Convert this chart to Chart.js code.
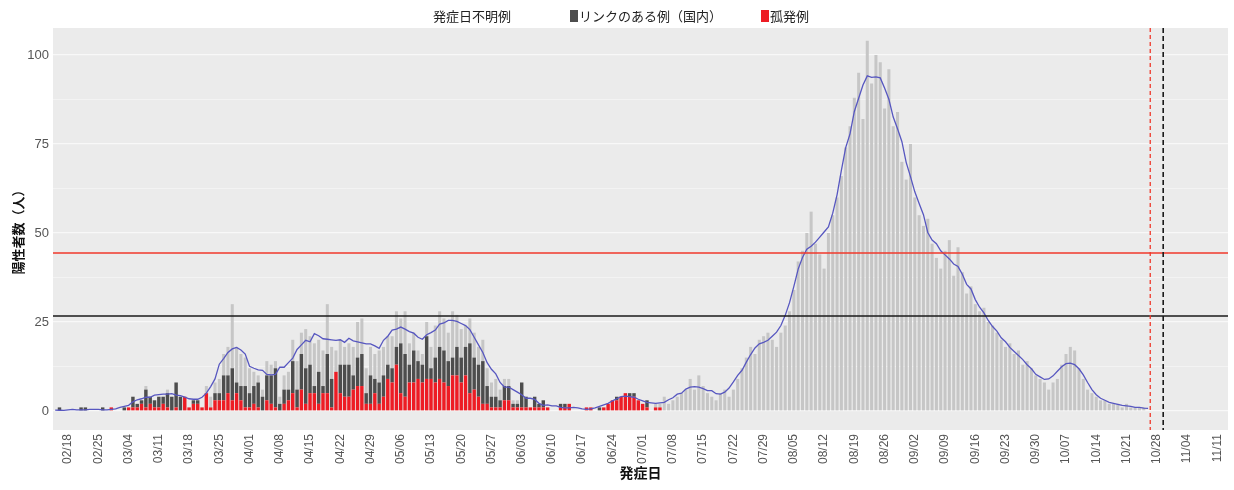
<!DOCTYPE html>
<html lang="ja">
<head>
<meta charset="utf-8">
<title>発症日別 陽性者数</title>
<script src="https://cdn.jsdelivr.net/npm/chart.js@4.4.1/dist/chart.umd.min.js"></script>
<style>
  html, body { margin: 0; background: #fff; }
  #wrap { position: relative; width: 1234px; height: 490px; }
  #legend { position: absolute; top: 6px; left: 0; font: 13px 'Noto Sans CJK JP', sans-serif; color: #222; }
  #legend span { position: absolute; white-space: nowrap; }
  #legend i { display: inline-block; width: 8px; height: 12px; margin-right: 1px; vertical-align: -1px; }
</style>
</head>
<body>
<div id="wrap">
  <canvas id="chart" width="1234" height="490"></canvas>
  <div id="legend"></div>
</div>
<script>
// daily counts from 02/15 (index 0) up to 10/26
const sporadic = [
  0,0,0,0,0,0,0,  0,0,0,0,0,0,1,  0,0,0,1,1,1,2,  1,2,1,1,2,1,0,
  1,0,4,1,2,2,1,  5,1,3,3,3,5,3,  5,3,1,1,2,1,0,  3,2,1,0,2,3,5,
  1,6,2,5,5,2,5,  5,1,11,5,4,4,6, 7,7,2,2,5,2,4,  9,8,13,5,4,8,8,
  9,8,9,9,8,9,8,  7,10,10,8,10,5,6, 4,2,2,1,1,1,3, 3,1,1,1,1,1,1,
  1,1,1,0,0,1,1,  2,0,0,0,1,1,0,  0,1,2,3,3,4,5,  4,4,3,2,1,0,1,
  1,0,0,0,0,0,0,  0,0,0,0,0,0,0,  0,0,0,0,0,0,0,  0,0,0,0,0,0,0,
  0,0,0,0,0,0,0,  0,0,0,0,0,0,0,  0,0,0,0,0,0,0,  0,0,0,0,0,0,0,
  0,0,0,0,0,0,0,  0,0,0,0,0,0,0,  0,0,0,0,0,0,0,  0,0,0,0,0,0,0,
  0,0,0,0,0,0,0,  0,0,0,0,0,0,0,  0,0,0,0,0,0,0,  0,0,0,0,0,0,0,
  0,0,0,0,0,0,0,  0,0
];
const linked = [
  0,1,0,0,0,0,1,  1,0,0,0,1,0,0,  0,0,1,0,3,1,1,  5,2,2,3,2,4,4,
  7,4,0,0,1,1,0,  0,0,2,2,7,5,9,  3,4,6,4,5,7,4,  7,8,11,2,4,3,9,
  5,10,10,8,2,9,2, 11,8,0,8,9,9,4, 8,9,3,8,4,6,6, 4,4,5,14,12,5,9,
  5,5,12,3,7,9,9, 7,5,8,7,8,14,9, 9,12,5,3,3,2,4, 4,1,1,7,3,0,3,
  1,2,0,0,0,1,1,  0,0,0,0,0,0,0,  1,0,0,0,1,0,0,  1,1,0,0,2,0,0,
  0,0,0,0,0,0,0,  0,0,0,0,0,0,0,  0,0,0,0,0,0,0,  0,0,0,0,0,0,0,
  0,0,0,0,0,0,0,  0,0,0,0,0,0,0,  0,0,0,0,0,0,0,  0,0,0,0,0,0,0,
  0,0,0,0,0,0,0,  0,0,0,0,0,0,0,  0,0,0,0,0,0,0,  0,0,0,0,0,0,0,
  0,0,0,0,0,0,0,  0,0,0,0,0,0,0,  0,0,0,0,0,0,0,  0,0,0,0,0,0,0,
  0,0,0,0,0,0,0,  0,0
];
const unknown = [
  0,0,0,0,0,0,0,  0,0,0,0,0,0,0,  0,0,0,0,0,0,0,  1,0,0,0,0,1,0,
  0,0,0,0,0,0,0,  2,3,3,4,6,8,18, 10,9,8,7,4,2,2, 4,3,2,2,4,5,6,
  8,6,11,8,12,9,10, 14,9,6,7,5,6,8, 10,10,7,8,7,9,8, 8,9,10,7,12,6,5,
  3,3,4,6,9,10,9, 8,13,9,8,6,7,7, 5,6,5,4,5,3,2,  2,1,1,0,0,0,0,
  0,0,0,0,0,0,0,  0,0,0,0,0,0,0,  0,0,0,0,0,0,0,  0,0,0,0,0,0,1,
  1,4,2,3,4,5,6,  9,6,10,7,5,4,3, 5,6,4,6,9,12,15, 18,16,20,21,22,20,18,
  22,24,28,34,42,45,50, 56,47,44,40,50,55,60, 66,74,80,88,95,82,104, 92,100,98,85,96,80,84,
  70,65,75,60,55,52,54, 47,43,40,45,48,38,46, 39,33,35,30,28,29,25, 24,22,20,18,19,16,17,
  13,14,12,10,9,8,6, 8,9,13,16,18,17,12, 9,6,5,4,3,3,2, 2,2,1,2,1,1,1,
  1,0
];

const seriesNames = ['発症日不明例', 'リンクのある例（国内）', '孤発例'];
const tickLabels = ['02/18','02/25','03/04','03/11','03/18','03/25','04/01','04/08','04/15','04/22',
  '04/29','05/06','05/13','05/20','05/27','06/03','06/10','06/17','06/24','07/01','07/08','07/15',
  '07/22','07/29','08/05','08/12','08/19','08/26','09/02','09/09','09/16','09/23','09/30','10/07',
  '10/14','10/21','10/28','11/04','11/11'];
const yTicks = [0, 25, 50, 75, 100];
const thresholds = [44.4, 26.7];
const markerDates = ['10/27', '10/30'];

// category labels: one per day, 02/15 .. 11/13
const monthDays = [31,28,31,30,31,30,31,31,30,31,30,31];
const dates = [];
let m = 2, d = 15;
while (dates.length < 272) {
  dates.push(String(m).padStart(2, '0') + '/' + String(d).padStart(2, '0'));
  d++;
  if (d > monthDays[m - 1]) { d = 1; m++; }
}

function movingAverage() {
  const total = unknown.map((u, i) => u + linked[i] + sporadic[i]);
  return dates.map((_, i) => {
    if (i >= total.length) return null;
    let sum = 0, n = 0;
    for (let k = i - 3; k <= i + 3; k++) {
      if (k >= 0 && k < total.length) { sum += total[k]; n++; }
    }
    return sum / n;
  });
}

const JP = "'Noto Sans CJK JP', sans-serif";
const LATIN = "'Liberation Sans', Arial, sans-serif";

const overlay = {
  id: 'overlay',
  beforeDraw(chart) {
    const {ctx, chartArea: a} = chart;
    ctx.save();
    ctx.fillStyle = '#ebebeb';
    ctx.fillRect(a.left, a.top, a.right - a.left, a.bottom - a.top);
    ctx.restore();
  },
  afterDatasetsDraw(chart) {
    const {ctx, chartArea: a, scales: {x, y}} = chart;
    const colors = ['#f0392b', '#1a1a1a'];
    ctx.save();
    thresholds.forEach((v, i) => {
      const py = Math.round(y.getPixelForValue(v));
      ctx.strokeStyle = colors[i];
      ctx.lineWidth = 1.6;
      ctx.beginPath(); ctx.moveTo(a.left, py); ctx.lineTo(a.right, py); ctx.stroke();
    });
    const step = x.getPixelForValue(1) - x.getPixelForValue(0);
    markerDates.forEach((md, i) => {
      const px = x.getPixelForValue(dates.indexOf(md)) - step / 2;
      ctx.strokeStyle = colors[i];
      ctx.lineWidth = i ? 1.6 : 1.3;
      ctx.setLineDash(i ? [5, 3] : [4, 3]);
      ctx.beginPath(); ctx.moveTo(px, a.top); ctx.lineTo(px, a.bottom); ctx.stroke();
    });
    ctx.restore();
  }
};

window.onload = function () {
  const legend = document.getElementById('legend');
  const legendLeft = [433, 570, 761];
  const legendColors = [null, '#4d4d4d', '#ed1c24'];
  seriesNames.forEach((name, i) => {
    const s = document.createElement('span');
    s.style.left = legendLeft[i] + 'px';
    s.innerHTML = (legendColors[i] ? '<i style="background:' + legendColors[i] + '"></i>' : '') + name;
    legend.appendChild(s);
  });

  const gridValues = [];
  for (let v = 0; v <= 100; v += 12.5) gridValues.push(v);

  new Chart(document.getElementById('chart'), {
    type: 'bar',
    data: {
      labels: dates,
      datasets: [
        { type: 'line', label: '移動平均', data: movingAverage(), stack: 'avg', order: 0,
          borderColor: '#5757c0', borderWidth: 1.3, pointRadius: 0, tension: 0, spanGaps: false },
        { label: seriesNames[2], data: sporadic, stack: 'cases', order: 1,
          backgroundColor: '#ed1c24', barPercentage: 0.8, categoryPercentage: 1 },
        { label: seriesNames[1], data: linked, stack: 'cases', order: 2,
          backgroundColor: '#4d4d4d', barPercentage: 0.8, categoryPercentage: 1 },
        { label: seriesNames[0], data: unknown, stack: 'cases', order: 3,
          backgroundColor: '#c6c6c6', barPercentage: 0.7, categoryPercentage: 1 }
      ]
    },
    options: {
      responsive: false,
      animation: false,
      devicePixelRatio: 1,
      events: [],
      layout: { padding: { top: 28, right: 6, left: 0, bottom: 0 } },
      plugins: { legend: { display: false }, tooltip: { enabled: false } },
      scales: {
        x: {
          stacked: true,
          grid: { display: false, drawTicks: false },
          border: { display: false },
          ticks: {
            autoSkip: false, minRotation: 90, maxRotation: 90, padding: 4,
            color: '#555', font: { family: LATIN, size: 12 },
            callback: (v, i) => tickLabels.includes(dates[i]) ? dates[i] : ''
          },
          title: { display: true, text: '発症日', color: '#111',
            font: { family: JP, size: 14, weight: 'bold' }, padding: { top: 0, bottom: 9 } },
          afterFit: s => { s.height = 60; s.paddingLeft = 0; s.paddingRight = 0; }
        },
        y: {
          stacked: true,
          min: -5.35, max: 107.6,
          afterBuildTicks: s => { s.ticks = gridValues.map(v => ({ value: v })); },
          grid: { color: '#f8f8f8', drawTicks: false,
            lineWidth: c => c.tick && yTicks.includes(c.tick.value) ? 1.2 : 0.6 },
          border: { display: false },
          ticks: { padding: 4, color: '#555', font: { family: LATIN, size: 13 },
            callback: v => yTicks.includes(v) ? v : '' },
          title: { display: true, text: '陽性者数（人）', color: '#111',
            font: { family: JP, size: 13, weight: 'bold' }, padding: { top: 10, bottom: 0 } },
          afterFit: s => { s.width = 53; }
        }
      }
    },
    plugins: [overlay]
  });
};
</script>
</body>
</html>
